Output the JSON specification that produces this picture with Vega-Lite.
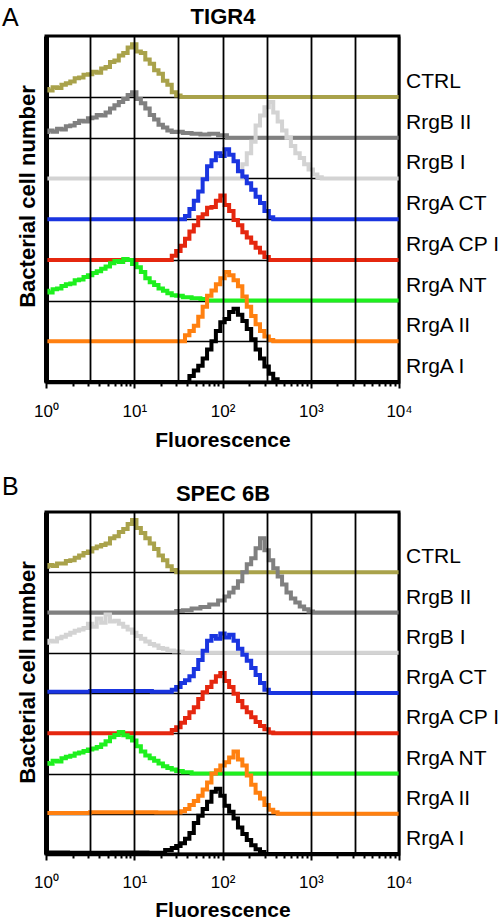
{
"$schema": "https://vega.github.io/schema/vega-lite/v6.json",
"background": "white",
"padding": {"left": 0, "top": 3, "right": 0, "bottom": 0},
"spacing": 21,
"config": {
  "font": "Liberation Sans",
  "view": {"stroke": "black", "strokeWidth": 3},
  "axis": {"titleColor": "black", "labelColor": "black"},
  "title": {"color": "black"}
},
"datasets": {
"A": [
{"s":"CTRL","x":1,"y":7.2},{"s":"CTRL","x":1.122,"y":7.16},{"s":"CTRL","x":1.259,"y":7.24},{"s":"CTRL","x":1.413,"y":7.22},{"s":"CTRL","x":1.585,"y":7.3},{"s":"CTRL","x":1.778,"y":7.34},{"s":"CTRL","x":1.995,"y":7.38},{"s":"CTRL","x":2.239,"y":7.46},{"s":"CTRL","x":2.512,"y":7.48},{"s":"CTRL","x":2.818,"y":7.55},{"s":"CTRL","x":3.162,"y":7.56},{"s":"CTRL","x":3.548,"y":7.62},{"s":"CTRL","x":3.981,"y":7.6},{"s":"CTRL","x":4.467,"y":7.7},{"s":"CTRL","x":5.012,"y":7.74},{"s":"CTRL","x":5.623,"y":7.86},{"s":"CTRL","x":6.31,"y":7.9},{"s":"CTRL","x":7.079,"y":8.02},{"s":"CTRL","x":7.943,"y":8.08},{"s":"CTRL","x":8.913,"y":8.22},{"s":"CTRL","x":10,"y":8.3},{"s":"CTRL","x":11.22,"y":8.12},{"s":"CTRL","x":12.59,"y":8.08},{"s":"CTRL","x":14.13,"y":7.92},{"s":"CTRL","x":15.85,"y":7.82},{"s":"CTRL","x":17.78,"y":7.66},{"s":"CTRL","x":19.95,"y":7.57},{"s":"CTRL","x":22.39,"y":7.4},{"s":"CTRL","x":25.12,"y":7.3},{"s":"CTRL","x":28.18,"y":7.12},{"s":"CTRL","x":31.62,"y":7.04},{"s":"CTRL","x":35.48,"y":7.0},{"s":"CTRL","x":10000,"y":7.0},
{"s":"RrgB II","x":1,"y":6.14},{"s":"RrgB II","x":1.122,"y":6.18},{"s":"RrgB II","x":1.259,"y":6.15},{"s":"RrgB II","x":1.413,"y":6.22},{"s":"RrgB II","x":1.585,"y":6.2},{"s":"RrgB II","x":1.778,"y":6.28},{"s":"RrgB II","x":1.995,"y":6.3},{"s":"RrgB II","x":2.239,"y":6.36},{"s":"RrgB II","x":2.512,"y":6.42},{"s":"RrgB II","x":2.818,"y":6.4},{"s":"RrgB II","x":3.162,"y":6.48},{"s":"RrgB II","x":3.548,"y":6.5},{"s":"RrgB II","x":3.981,"y":6.56},{"s":"RrgB II","x":4.467,"y":6.55},{"s":"RrgB II","x":5.012,"y":6.62},{"s":"RrgB II","x":5.623,"y":6.72},{"s":"RrgB II","x":6.31,"y":6.8},{"s":"RrgB II","x":7.079,"y":6.88},{"s":"RrgB II","x":7.943,"y":6.95},{"s":"RrgB II","x":8.913,"y":7.05},{"s":"RrgB II","x":10,"y":7.12},{"s":"RrgB II","x":11.22,"y":6.95},{"s":"RrgB II","x":12.59,"y":6.85},{"s":"RrgB II","x":14.13,"y":6.72},{"s":"RrgB II","x":15.85,"y":6.56},{"s":"RrgB II","x":17.78,"y":6.45},{"s":"RrgB II","x":19.95,"y":6.32},{"s":"RrgB II","x":22.39,"y":6.25},{"s":"RrgB II","x":25.12,"y":6.18},{"s":"RrgB II","x":28.18,"y":6.14},{"s":"RrgB II","x":31.62,"y":6.15},{"s":"RrgB II","x":39.81,"y":6.12},{"s":"RrgB II","x":50.12,"y":6.1},{"s":"RrgB II","x":63.1,"y":6.08},{"s":"RrgB II","x":79.43,"y":6.1},{"s":"RrgB II","x":100,"y":6.06},{"s":"RrgB II","x":125.9,"y":6.0},{"s":"RrgB II","x":10000,"y":6.0},
{"s":"RrgB I","x":1,"y":5.0},{"s":"RrgB I","x":158.5,"y":5.0},{"s":"RrgB I","x":177.8,"y":5.35},{"s":"RrgB I","x":199.5,"y":5.62},{"s":"RrgB I","x":223.9,"y":5.9},{"s":"RrgB I","x":251.2,"y":6.3},{"s":"RrgB I","x":281.8,"y":6.55},{"s":"RrgB I","x":316.2,"y":6.75},{"s":"RrgB I","x":354.8,"y":6.88},{"s":"RrgB I","x":398.1,"y":6.62},{"s":"RrgB I","x":446.7,"y":6.4},{"s":"RrgB I","x":501.2,"y":6.18},{"s":"RrgB I","x":562.3,"y":6.0},{"s":"RrgB I","x":631,"y":5.8},{"s":"RrgB I","x":707.9,"y":5.62},{"s":"RrgB I","x":794.3,"y":5.5},{"s":"RrgB I","x":891.3,"y":5.35},{"s":"RrgB I","x":1000,"y":5.22},{"s":"RrgB I","x":1122,"y":5.1},{"s":"RrgB I","x":1259,"y":5.03},{"s":"RrgB I","x":1413,"y":5.0},{"s":"RrgB I","x":10000,"y":5.0},
{"s":"RrgA CT","x":1,"y":4.0},{"s":"RrgA CT","x":35.48,"y":4.0},{"s":"RrgA CT","x":39.81,"y":4.08},{"s":"RrgA CT","x":44.67,"y":4.25},{"s":"RrgA CT","x":50.12,"y":4.45},{"s":"RrgA CT","x":56.23,"y":4.68},{"s":"RrgA CT","x":63.1,"y":4.98},{"s":"RrgA CT","x":70.79,"y":5.3},{"s":"RrgA CT","x":79.43,"y":5.45},{"s":"RrgA CT","x":89.13,"y":5.62},{"s":"RrgA CT","x":100,"y":5.55},{"s":"RrgA CT","x":112.2,"y":5.72},{"s":"RrgA CT","x":125.9,"y":5.58},{"s":"RrgA CT","x":141.3,"y":5.42},{"s":"RrgA CT","x":158.5,"y":5.18},{"s":"RrgA CT","x":177.8,"y":5.05},{"s":"RrgA CT","x":199.5,"y":4.88},{"s":"RrgA CT","x":223.9,"y":4.72},{"s":"RrgA CT","x":251.2,"y":4.55},{"s":"RrgA CT","x":281.8,"y":4.4},{"s":"RrgA CT","x":316.2,"y":4.2},{"s":"RrgA CT","x":354.8,"y":4.05},{"s":"RrgA CT","x":398.1,"y":4.0},{"s":"RrgA CT","x":10000,"y":4.0},
{"s":"RrgA CP I","x":1,"y":3.0},{"s":"RrgA CP I","x":25.12,"y":3.0},{"s":"RrgA CP I","x":28.18,"y":3.1},{"s":"RrgA CP I","x":31.62,"y":3.22},{"s":"RrgA CP I","x":35.48,"y":3.35},{"s":"RrgA CP I","x":39.81,"y":3.52},{"s":"RrgA CP I","x":44.67,"y":3.7},{"s":"RrgA CP I","x":50.12,"y":3.85},{"s":"RrgA CP I","x":56.23,"y":4.05},{"s":"RrgA CP I","x":63.1,"y":4.12},{"s":"RrgA CP I","x":70.79,"y":4.28},{"s":"RrgA CP I","x":79.43,"y":4.3},{"s":"RrgA CP I","x":89.13,"y":4.45},{"s":"RrgA CP I","x":100,"y":4.58},{"s":"RrgA CP I","x":112.2,"y":4.35},{"s":"RrgA CP I","x":125.9,"y":4.2},{"s":"RrgA CP I","x":141.3,"y":3.98},{"s":"RrgA CP I","x":158.5,"y":3.85},{"s":"RrgA CP I","x":177.8,"y":3.68},{"s":"RrgA CP I","x":199.5,"y":3.55},{"s":"RrgA CP I","x":223.9,"y":3.42},{"s":"RrgA CP I","x":251.2,"y":3.3},{"s":"RrgA CP I","x":281.8,"y":3.18},{"s":"RrgA CP I","x":316.2,"y":3.07},{"s":"RrgA CP I","x":354.8,"y":3.0},{"s":"RrgA CP I","x":10000,"y":3.0},
{"s":"RrgA NT","x":1,"y":2.24},{"s":"RrgA NT","x":1.122,"y":2.2},{"s":"RrgA NT","x":1.259,"y":2.28},{"s":"RrgA NT","x":1.413,"y":2.3},{"s":"RrgA NT","x":1.585,"y":2.36},{"s":"RrgA NT","x":1.778,"y":2.4},{"s":"RrgA NT","x":1.995,"y":2.42},{"s":"RrgA NT","x":2.239,"y":2.5},{"s":"RrgA NT","x":2.512,"y":2.52},{"s":"RrgA NT","x":2.818,"y":2.58},{"s":"RrgA NT","x":3.162,"y":2.62},{"s":"RrgA NT","x":3.548,"y":2.68},{"s":"RrgA NT","x":3.981,"y":2.72},{"s":"RrgA NT","x":4.467,"y":2.78},{"s":"RrgA NT","x":5.012,"y":2.84},{"s":"RrgA NT","x":5.623,"y":2.92},{"s":"RrgA NT","x":6.31,"y":2.97},{"s":"RrgA NT","x":7.079,"y":2.95},{"s":"RrgA NT","x":7.943,"y":3.02},{"s":"RrgA NT","x":8.913,"y":3.0},{"s":"RrgA NT","x":10,"y":2.9},{"s":"RrgA NT","x":11.22,"y":2.82},{"s":"RrgA NT","x":12.59,"y":2.7},{"s":"RrgA NT","x":14.13,"y":2.55},{"s":"RrgA NT","x":15.85,"y":2.45},{"s":"RrgA NT","x":17.78,"y":2.38},{"s":"RrgA NT","x":19.95,"y":2.3},{"s":"RrgA NT","x":22.39,"y":2.24},{"s":"RrgA NT","x":25.12,"y":2.18},{"s":"RrgA NT","x":28.18,"y":2.13},{"s":"RrgA NT","x":31.62,"y":2.12},{"s":"RrgA NT","x":39.81,"y":2.08},{"s":"RrgA NT","x":50.12,"y":2.06},{"s":"RrgA NT","x":63.1,"y":2.04},{"s":"RrgA NT","x":70.79,"y":2.0},{"s":"RrgA NT","x":10000,"y":2.0},
{"s":"RrgA II","x":1,"y":1.0},{"s":"RrgA II","x":35.48,"y":1.0},{"s":"RrgA II","x":39.81,"y":1.15},{"s":"RrgA II","x":44.67,"y":1.25},{"s":"RrgA II","x":50.12,"y":1.38},{"s":"RrgA II","x":56.23,"y":1.6},{"s":"RrgA II","x":63.1,"y":1.85},{"s":"RrgA II","x":70.79,"y":2.12},{"s":"RrgA II","x":79.43,"y":2.25},{"s":"RrgA II","x":89.13,"y":2.4},{"s":"RrgA II","x":100,"y":2.55},{"s":"RrgA II","x":112.2,"y":2.7},{"s":"RrgA II","x":125.9,"y":2.62},{"s":"RrgA II","x":141.3,"y":2.5},{"s":"RrgA II","x":158.5,"y":2.35},{"s":"RrgA II","x":177.8,"y":2.1},{"s":"RrgA II","x":199.5,"y":1.85},{"s":"RrgA II","x":223.9,"y":1.62},{"s":"RrgA II","x":251.2,"y":1.42},{"s":"RrgA II","x":281.8,"y":1.25},{"s":"RrgA II","x":316.2,"y":1.12},{"s":"RrgA II","x":354.8,"y":1.03},{"s":"RrgA II","x":398.1,"y":1.0},{"s":"RrgA II","x":10000,"y":1.0},
{"s":"RrgA I","x":1,"y":0.0},{"s":"RrgA I","x":39.81,"y":0.0},{"s":"RrgA I","x":44.67,"y":0.15},{"s":"RrgA I","x":50.12,"y":0.28},{"s":"RrgA I","x":56.23,"y":0.4},{"s":"RrgA I","x":63.1,"y":0.58},{"s":"RrgA I","x":70.79,"y":0.8},{"s":"RrgA I","x":79.43,"y":1.0},{"s":"RrgA I","x":89.13,"y":1.25},{"s":"RrgA I","x":100,"y":1.47},{"s":"RrgA I","x":112.2,"y":1.55},{"s":"RrgA I","x":125.9,"y":1.72},{"s":"RrgA I","x":141.3,"y":1.8},{"s":"RrgA I","x":158.5,"y":1.65},{"s":"RrgA I","x":177.8,"y":1.5},{"s":"RrgA I","x":199.5,"y":1.3},{"s":"RrgA I","x":223.9,"y":1.05},{"s":"RrgA I","x":251.2,"y":0.8},{"s":"RrgA I","x":281.8,"y":0.58},{"s":"RrgA I","x":316.2,"y":0.38},{"s":"RrgA I","x":354.8,"y":0.2},{"s":"RrgA I","x":398.1,"y":0.07},{"s":"RrgA I","x":446.7,"y":0.0},{"s":"RrgA I","x":10000,"y":0.0}
],
"B": [
{"s":"CTRL","x":1,"y":7.14},{"s":"CTRL","x":1.122,"y":7.18},{"s":"CTRL","x":1.259,"y":7.16},{"s":"CTRL","x":1.413,"y":7.22},{"s":"CTRL","x":1.585,"y":7.22},{"s":"CTRL","x":1.778,"y":7.28},{"s":"CTRL","x":1.995,"y":7.3},{"s":"CTRL","x":2.239,"y":7.36},{"s":"CTRL","x":2.512,"y":7.42},{"s":"CTRL","x":2.818,"y":7.48},{"s":"CTRL","x":3.162,"y":7.52},{"s":"CTRL","x":3.548,"y":7.6},{"s":"CTRL","x":3.981,"y":7.64},{"s":"CTRL","x":4.467,"y":7.68},{"s":"CTRL","x":5.012,"y":7.72},{"s":"CTRL","x":5.623,"y":7.85},{"s":"CTRL","x":6.31,"y":7.9},{"s":"CTRL","x":7.079,"y":8.0},{"s":"CTRL","x":7.943,"y":8.08},{"s":"CTRL","x":8.913,"y":8.2},{"s":"CTRL","x":10,"y":8.3},{"s":"CTRL","x":11.22,"y":8.1},{"s":"CTRL","x":12.59,"y":7.98},{"s":"CTRL","x":14.13,"y":7.85},{"s":"CTRL","x":15.85,"y":7.72},{"s":"CTRL","x":17.78,"y":7.58},{"s":"CTRL","x":19.95,"y":7.42},{"s":"CTRL","x":22.39,"y":7.3},{"s":"CTRL","x":25.12,"y":7.15},{"s":"CTRL","x":28.18,"y":7.06},{"s":"CTRL","x":31.62,"y":7.0},{"s":"CTRL","x":10000,"y":7.0},
{"s":"RrgB II","x":1,"y":6.0},{"s":"RrgB II","x":28.18,"y":6.0},{"s":"RrgB II","x":31.62,"y":6.04},{"s":"RrgB II","x":39.81,"y":6.06},{"s":"RrgB II","x":50.12,"y":6.1},{"s":"RrgB II","x":63.1,"y":6.14},{"s":"RrgB II","x":79.43,"y":6.2},{"s":"RrgB II","x":100,"y":6.3},{"s":"RrgB II","x":112.2,"y":6.4},{"s":"RrgB II","x":125.9,"y":6.5},{"s":"RrgB II","x":141.3,"y":6.62},{"s":"RrgB II","x":158.5,"y":6.78},{"s":"RrgB II","x":177.8,"y":7.0},{"s":"RrgB II","x":199.5,"y":7.2},{"s":"RrgB II","x":223.9,"y":7.35},{"s":"RrgB II","x":251.2,"y":7.6},{"s":"RrgB II","x":281.8,"y":7.85},{"s":"RrgB II","x":316.2,"y":7.55},{"s":"RrgB II","x":354.8,"y":7.3},{"s":"RrgB II","x":398.1,"y":7.1},{"s":"RrgB II","x":446.7,"y":6.9},{"s":"RrgB II","x":501.2,"y":6.7},{"s":"RrgB II","x":562.3,"y":6.5},{"s":"RrgB II","x":631,"y":6.35},{"s":"RrgB II","x":707.9,"y":6.25},{"s":"RrgB II","x":794.3,"y":6.15},{"s":"RrgB II","x":891.3,"y":6.08},{"s":"RrgB II","x":1000,"y":6.03},{"s":"RrgB II","x":1122,"y":6.0},{"s":"RrgB II","x":10000,"y":6.0},
{"s":"RrgB I","x":1,"y":5.25},{"s":"RrgB I","x":1.122,"y":5.3},{"s":"RrgB I","x":1.259,"y":5.28},{"s":"RrgB I","x":1.413,"y":5.36},{"s":"RrgB I","x":1.585,"y":5.4},{"s":"RrgB I","x":1.778,"y":5.45},{"s":"RrgB I","x":1.995,"y":5.5},{"s":"RrgB I","x":2.239,"y":5.55},{"s":"RrgB I","x":2.512,"y":5.58},{"s":"RrgB I","x":2.818,"y":5.62},{"s":"RrgB I","x":3.162,"y":5.72},{"s":"RrgB I","x":3.548,"y":5.65},{"s":"RrgB I","x":3.981,"y":5.85},{"s":"RrgB I","x":4.467,"y":5.75},{"s":"RrgB I","x":5.012,"y":5.95},{"s":"RrgB I","x":5.623,"y":5.78},{"s":"RrgB I","x":6.31,"y":5.8},{"s":"RrgB I","x":7.079,"y":5.72},{"s":"RrgB I","x":7.943,"y":5.65},{"s":"RrgB I","x":8.913,"y":5.58},{"s":"RrgB I","x":10,"y":5.5},{"s":"RrgB I","x":11.22,"y":5.42},{"s":"RrgB I","x":12.59,"y":5.35},{"s":"RrgB I","x":14.13,"y":5.28},{"s":"RrgB I","x":15.85,"y":5.22},{"s":"RrgB I","x":17.78,"y":5.18},{"s":"RrgB I","x":19.95,"y":5.12},{"s":"RrgB I","x":22.39,"y":5.1},{"s":"RrgB I","x":25.12,"y":5.06},{"s":"RrgB I","x":31.62,"y":5.03},{"s":"RrgB I","x":39.81,"y":5.0},{"s":"RrgB I","x":10000,"y":5.0},
{"s":"RrgA CT","x":1,"y":4.03},{"s":"RrgA CT","x":10,"y":4.05},{"s":"RrgA CT","x":25.12,"y":4.03},{"s":"RrgA CT","x":28.18,"y":4.08},{"s":"RrgA CT","x":31.62,"y":4.15},{"s":"RrgA CT","x":35.48,"y":4.25},{"s":"RrgA CT","x":39.81,"y":4.32},{"s":"RrgA CT","x":44.67,"y":4.42},{"s":"RrgA CT","x":50.12,"y":4.6},{"s":"RrgA CT","x":56.23,"y":4.82},{"s":"RrgA CT","x":63.1,"y":5.05},{"s":"RrgA CT","x":70.79,"y":5.3},{"s":"RrgA CT","x":79.43,"y":5.42},{"s":"RrgA CT","x":89.13,"y":5.35},{"s":"RrgA CT","x":100,"y":5.48},{"s":"RrgA CT","x":112.2,"y":5.38},{"s":"RrgA CT","x":125.9,"y":5.45},{"s":"RrgA CT","x":141.3,"y":5.3},{"s":"RrgA CT","x":158.5,"y":5.1},{"s":"RrgA CT","x":177.8,"y":4.95},{"s":"RrgA CT","x":199.5,"y":4.8},{"s":"RrgA CT","x":223.9,"y":4.62},{"s":"RrgA CT","x":251.2,"y":4.45},{"s":"RrgA CT","x":281.8,"y":4.25},{"s":"RrgA CT","x":316.2,"y":4.08},{"s":"RrgA CT","x":354.8,"y":4.0},{"s":"RrgA CT","x":10000,"y":4.0},
{"s":"RrgA CP I","x":1,"y":3.0},{"s":"RrgA CP I","x":25.12,"y":3.0},{"s":"RrgA CP I","x":28.18,"y":3.08},{"s":"RrgA CP I","x":31.62,"y":3.15},{"s":"RrgA CP I","x":35.48,"y":3.26},{"s":"RrgA CP I","x":39.81,"y":3.38},{"s":"RrgA CP I","x":44.67,"y":3.52},{"s":"RrgA CP I","x":50.12,"y":3.65},{"s":"RrgA CP I","x":56.23,"y":3.85},{"s":"RrgA CP I","x":63.1,"y":4.02},{"s":"RrgA CP I","x":70.79,"y":4.15},{"s":"RrgA CP I","x":79.43,"y":4.28},{"s":"RrgA CP I","x":89.13,"y":4.42},{"s":"RrgA CP I","x":100,"y":4.5},{"s":"RrgA CP I","x":112.2,"y":4.3},{"s":"RrgA CP I","x":125.9,"y":4.15},{"s":"RrgA CP I","x":141.3,"y":3.98},{"s":"RrgA CP I","x":158.5,"y":3.8},{"s":"RrgA CP I","x":177.8,"y":3.65},{"s":"RrgA CP I","x":199.5,"y":3.52},{"s":"RrgA CP I","x":223.9,"y":3.4},{"s":"RrgA CP I","x":251.2,"y":3.28},{"s":"RrgA CP I","x":281.8,"y":3.18},{"s":"RrgA CP I","x":316.2,"y":3.1},{"s":"RrgA CP I","x":354.8,"y":3.02},{"s":"RrgA CP I","x":398.1,"y":3.0},{"s":"RrgA CP I","x":10000,"y":3.0},
{"s":"RrgA NT","x":1,"y":2.26},{"s":"RrgA NT","x":1.122,"y":2.24},{"s":"RrgA NT","x":1.259,"y":2.32},{"s":"RrgA NT","x":1.413,"y":2.3},{"s":"RrgA NT","x":1.585,"y":2.38},{"s":"RrgA NT","x":1.778,"y":2.42},{"s":"RrgA NT","x":1.995,"y":2.44},{"s":"RrgA NT","x":2.239,"y":2.5},{"s":"RrgA NT","x":2.512,"y":2.52},{"s":"RrgA NT","x":2.818,"y":2.56},{"s":"RrgA NT","x":3.162,"y":2.6},{"s":"RrgA NT","x":3.548,"y":2.62},{"s":"RrgA NT","x":3.981,"y":2.66},{"s":"RrgA NT","x":4.467,"y":2.72},{"s":"RrgA NT","x":5.012,"y":2.8},{"s":"RrgA NT","x":5.623,"y":2.9},{"s":"RrgA NT","x":6.31,"y":2.96},{"s":"RrgA NT","x":7.079,"y":3.03},{"s":"RrgA NT","x":7.943,"y":2.95},{"s":"RrgA NT","x":8.913,"y":2.9},{"s":"RrgA NT","x":10,"y":2.82},{"s":"RrgA NT","x":11.22,"y":2.68},{"s":"RrgA NT","x":12.59,"y":2.55},{"s":"RrgA NT","x":14.13,"y":2.45},{"s":"RrgA NT","x":15.85,"y":2.38},{"s":"RrgA NT","x":17.78,"y":2.32},{"s":"RrgA NT","x":19.95,"y":2.25},{"s":"RrgA NT","x":22.39,"y":2.18},{"s":"RrgA NT","x":25.12,"y":2.14},{"s":"RrgA NT","x":28.18,"y":2.1},{"s":"RrgA NT","x":31.62,"y":2.06},{"s":"RrgA NT","x":39.81,"y":2.03},{"s":"RrgA NT","x":50.12,"y":2.0},{"s":"RrgA NT","x":10000,"y":2.0},
{"s":"RrgA II","x":1,"y":1.02},{"s":"RrgA II","x":10,"y":1.04},{"s":"RrgA II","x":31.62,"y":1.03},{"s":"RrgA II","x":35.48,"y":1.06},{"s":"RrgA II","x":39.81,"y":1.12},{"s":"RrgA II","x":44.67,"y":1.22},{"s":"RrgA II","x":50.12,"y":1.32},{"s":"RrgA II","x":56.23,"y":1.45},{"s":"RrgA II","x":63.1,"y":1.6},{"s":"RrgA II","x":70.79,"y":1.78},{"s":"RrgA II","x":79.43,"y":2.0},{"s":"RrgA II","x":89.13,"y":2.08},{"s":"RrgA II","x":100,"y":2.2},{"s":"RrgA II","x":112.2,"y":2.28},{"s":"RrgA II","x":125.9,"y":2.4},{"s":"RrgA II","x":141.3,"y":2.55},{"s":"RrgA II","x":158.5,"y":2.35},{"s":"RrgA II","x":177.8,"y":2.2},{"s":"RrgA II","x":199.5,"y":1.95},{"s":"RrgA II","x":223.9,"y":1.72},{"s":"RrgA II","x":251.2,"y":1.52},{"s":"RrgA II","x":281.8,"y":1.38},{"s":"RrgA II","x":316.2,"y":1.22},{"s":"RrgA II","x":354.8,"y":1.1},{"s":"RrgA II","x":398.1,"y":1.04},{"s":"RrgA II","x":446.7,"y":1.0},{"s":"RrgA II","x":10000,"y":1.0},
{"s":"RrgA I","x":1,"y":0.04},{"s":"RrgA I","x":3.162,"y":0.03},{"s":"RrgA I","x":10,"y":0.04},{"s":"RrgA I","x":19.95,"y":0.03},{"s":"RrgA I","x":25.12,"y":0.1},{"s":"RrgA I","x":28.18,"y":0.15},{"s":"RrgA I","x":31.62,"y":0.2},{"s":"RrgA I","x":35.48,"y":0.27},{"s":"RrgA I","x":39.81,"y":0.38},{"s":"RrgA I","x":44.67,"y":0.52},{"s":"RrgA I","x":50.12,"y":0.77},{"s":"RrgA I","x":56.23,"y":0.95},{"s":"RrgA I","x":63.1,"y":1.12},{"s":"RrgA I","x":70.79,"y":1.3},{"s":"RrgA I","x":79.43,"y":1.55},{"s":"RrgA I","x":89.13,"y":1.62},{"s":"RrgA I","x":100,"y":1.45},{"s":"RrgA I","x":112.2,"y":1.2},{"s":"RrgA I","x":125.9,"y":1.05},{"s":"RrgA I","x":141.3,"y":0.88},{"s":"RrgA I","x":158.5,"y":0.66},{"s":"RrgA I","x":177.8,"y":0.5},{"s":"RrgA I","x":199.5,"y":0.35},{"s":"RrgA I","x":223.9,"y":0.22},{"s":"RrgA I","x":251.2,"y":0.12},{"s":"RrgA I","x":281.8,"y":0.05},{"s":"RrgA I","x":316.2,"y":0.0},{"s":"RrgA I","x":10000,"y":0.0}
]
},
"vconcat": [
{
  "title": {"text": "A", "anchor": "start", "frame": "bounds", "fontSize": 25, "fontWeight": "normal", "dy": 30, "dx": -14},
  "width": 353, "height": 346,
  "data": {"name": "A"},
  "layer": [
    {
      "mark": {"type": "line", "strokeWidth": 4, "interpolate": "step"},
      "encoding": {
        "x": {"field": "x", "type": "quantitative", "scale": {"type": "log", "domain": [1, 10000]},
          "axis": {"orient": "bottom", "values": [1,2,3,3.162,4,5,6,7,8,9,10,20,30,31.62,40,50,60,70,80,90,100,200,300,316.2,400,500,600,700,800,900,1000,2000,3000,3162,4000,5000,6000,7000,8000,9000,10000],
            "labelExpr": "abs(log(datum.value)/LN10 - round(log(datum.value)/LN10)) < 0.001 ? '10' + ['⁰','¹','²','³','⁴'][round(log(datum.value)/LN10)] : ''",
            "labelFontSize": 17, "labelPadding": 15, "labelFlush": false, "labelOverlap": false,
            "title": "Fluorescence", "titleFontSize": 21, "titleFontWeight": "bold", "titlePadding": 10,
            "domainColor": "black", "domainWidth": 3.5,
            "tickColor": "black", "tickWidth": 2,
            "tickSize": {"condition": {"test": "abs(log(datum.value)/LN10 - round(log(datum.value)/LN10)) < 0.001", "value": 6}, "value": 4},
            "tickOpacity": {"condition": {"test": "abs(log(datum.value)/LN10 - round(log(datum.value)/LN10)) > 0.4 && abs(2*log(datum.value)/LN10 - round(2*log(datum.value)/LN10)) < 0.01", "value": 0}, "value": 1},
            "grid": true, "gridColor": "black", "gridWidth": 1.8,
            "gridOpacity": {"condition": {"test": "abs(2*log(datum.value)/LN10 - round(2*log(datum.value)/LN10)) < 0.01", "value": 1}, "value": 0},
            "zindex": 1}},
        "y": {"field": "y", "type": "quantitative", "scale": {"domain": [0, 8.5], "nice": false, "zero": false},
          "axis": {"orient": "left", "values": [0,1,2,3,4,5,6,7], "labels": false, "ticks": false,
            "domainColor": "black", "domainWidth": 5,
            "grid": true, "gridColor": "black", "gridWidth": 1.6,
            "title": "Bacterial cell number", "titleFontSize": 22, "titleFontWeight": "bold", "titlePadding": 7, "titleY": 160, "zindex": 0}},
        "color": {"field": "s", "type": "nominal", "legend": null,
          "scale": {"domain": ["CTRL","RrgB II","RrgB I","RrgA CT","RrgA CP I","RrgA NT","RrgA II","RrgA I"],
                    "range": ["#A9A24B","#808080","#D3D3D3","#1A35E0","#E5270F","#1EF01E","#FF8010","#000000"]}}
      }
    },
    {
      "transform": [{"filter": "datum.x == 10000"}],
      "mark": {"type": "text", "align": "left", "baseline": "middle", "dx": 7, "dy": -15, "fontSize": 21, "color": "black"},
      "encoding": {
        "x": {"datum": 10000, "type": "quantitative",
          "axis": {"orient": "top", "title": "TIGR4", "titleFontSize": 22, "titleFontWeight": "bold", "titlePadding": 8, "labels": false, "ticks": false, "domain": false, "grid": false}},
        "y": {"field": "y", "type": "quantitative"},
        "text": {"field": "s"}
      }
    }
  ],
  "resolve": {"axis": {"x": "independent"}}
},
{
  "title": {"text": "B", "anchor": "start", "frame": "bounds", "fontSize": 25, "fontWeight": "normal", "dy": 22, "dx": -14},
  "width": 353, "height": 342,
  "data": {"name": "B"},
  "layer": [
    {
      "mark": {"type": "line", "strokeWidth": 4, "interpolate": "step"},
      "encoding": {
        "x": {"field": "x", "type": "quantitative", "scale": {"type": "log", "domain": [1, 10000]},
          "axis": {"orient": "bottom", "values": [1,2,3,3.162,4,5,6,7,8,9,10,20,30,31.62,40,50,60,70,80,90,100,200,300,316.2,400,500,600,700,800,900,1000,2000,3000,3162,4000,5000,6000,7000,8000,9000,10000],
            "labelExpr": "abs(log(datum.value)/LN10 - round(log(datum.value)/LN10)) < 0.001 ? '10' + ['⁰','¹','²','³','⁴'][round(log(datum.value)/LN10)] : ''",
            "labelFontSize": 17, "labelPadding": 14, "labelFlush": false, "labelOverlap": false,
            "title": "Fluorescence", "titleFontSize": 21, "titleFontWeight": "bold", "titlePadding": 9,
            "domainColor": "black", "domainWidth": 3.5,
            "tickColor": "black", "tickWidth": 2,
            "tickSize": {"condition": {"test": "abs(log(datum.value)/LN10 - round(log(datum.value)/LN10)) < 0.001", "value": 6}, "value": 4},
            "tickOpacity": {"condition": {"test": "abs(log(datum.value)/LN10 - round(log(datum.value)/LN10)) > 0.4 && abs(2*log(datum.value)/LN10 - round(2*log(datum.value)/LN10)) < 0.01", "value": 0}, "value": 1},
            "grid": true, "gridColor": "black", "gridWidth": 1.8,
            "gridOpacity": {"condition": {"test": "abs(2*log(datum.value)/LN10 - round(2*log(datum.value)/LN10)) < 0.01", "value": 1}, "value": 0},
            "zindex": 1}},
        "y": {"field": "y", "type": "quantitative", "scale": {"domain": [0, 8.5], "nice": false, "zero": false},
          "axis": {"orient": "left", "values": [0,1,2,3,4,5,6,7], "labels": false, "ticks": false,
            "domainColor": "black", "domainWidth": 5,
            "grid": true, "gridColor": "black", "gridWidth": 1.6,
            "title": "Bacterial cell number", "titleFontSize": 22, "titleFontWeight": "bold", "titlePadding": 7, "titleY": 160, "zindex": 0}},
        "color": {"field": "s", "type": "nominal", "legend": null,
          "scale": {"domain": ["CTRL","RrgB II","RrgB I","RrgA CT","RrgA CP I","RrgA NT","RrgA II","RrgA I"],
                    "range": ["#A9A24B","#808080","#D3D3D3","#1A35E0","#E5270F","#1EF01E","#FF8010","#000000"]}}
      }
    },
    {
      "transform": [{"filter": "datum.x == 10000"}],
      "mark": {"type": "text", "align": "left", "baseline": "middle", "dx": 7, "dy": -15, "fontSize": 21, "color": "black"},
      "encoding": {
        "x": {"datum": 10000, "type": "quantitative",
          "axis": {"orient": "top", "title": "SPEC 6B", "titleFontSize": 22, "titleFontWeight": "bold", "titlePadding": 7, "labels": false, "ticks": false, "domain": false, "grid": false}},
        "y": {"field": "y", "type": "quantitative"},
        "text": {"field": "s"}
      }
    }
  ],
  "resolve": {"axis": {"x": "independent"}}
}
]
}
